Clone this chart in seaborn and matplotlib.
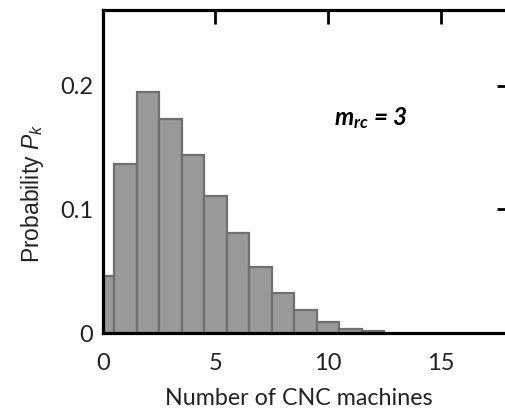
import matplotlib
matplotlib.use("Agg")
import matplotlib.pyplot as plt
import seaborn as sns
import numpy as np

# Probability of k CNC machines being required
machines = [0, 1, 2, 3, 4, 5, 6, 7, 8, 9, 10, 11, 12]
probability = [0.0464, 0.137, 0.195, 0.173, 0.1445, 0.111, 0.0806,
               0.0536, 0.0323, 0.0189, 0.0092, 0.0032, 0.0013]
x_ticks = [0, 5, 10, 15]
y_ticks = [0, 0.1, 0.2]
y_tick_labels = ["0", "0.1", "0.2"]

sns.set_style("white")
plt.rcParams["font.family"] = ["Lato", "DejaVu Sans"]
plt.rcParams["mathtext.fontset"] = "custom"
plt.rcParams["mathtext.rm"] = "Liberation Sans"
plt.rcParams["mathtext.it"] = "Liberation Sans:italic"
plt.rcParams["mathtext.bf"] = "Lato:bold:italic"

fig = plt.figure(figsize=(5.05, 4.12), dpi=100)
ax = fig.add_axes([0.2034, 0.1917, 1.011 - 0.2034, 0.9757 - 0.1917])

sns.histplot(x=machines, weights=probability, discrete=True, ax=ax,
             color="#999999", edgecolor="#6f6f6f", linewidth=1.6, alpha=1.0)

ax.set_xlim(0, 18.1)
ax.set_ylim(0, 0.2615)
ax.set_axisbelow(True)

ax.set_xticks(x_ticks)
ax.set_xticklabels([str(v) for v in x_ticks])
ax.set_yticks(y_ticks)
ax.set_yticklabels(y_tick_labels)

ax.tick_params(axis="both", which="major", direction="in", length=10,
               width=2.0, color="black", labelsize=17,
               top=True, right=True, labelcolor="#222222")
ax.tick_params(axis="x", pad=14.5)
ax.tick_params(axis="y", pad=7)

for side in ["left", "right", "top", "bottom"]:
    ax.spines[side].set_visible(True)
    ax.spines[side].set_linewidth(2.3)
    ax.spines[side].set_color("black")

ax.set_xlabel("Number of CNC machines", fontsize=16.75, color="#222222")
ax.xaxis.set_label_coords(0.482, -0.17)
ax.set_ylabel("Probability $P_k$", fontsize=16.5, color="#222222",
              fontfamily="Liberation Sans")
ax.yaxis.set_label_coords(-0.14, 0.433)

ax.text(11.9, 0.174, r"$\mathbf{m_{rc}}$ = 3", fontsize=17.5, fontweight="bold",
        fontstyle="italic", ha="center", va="center", color="black")

fig.savefig("out.png", dpi=100)
